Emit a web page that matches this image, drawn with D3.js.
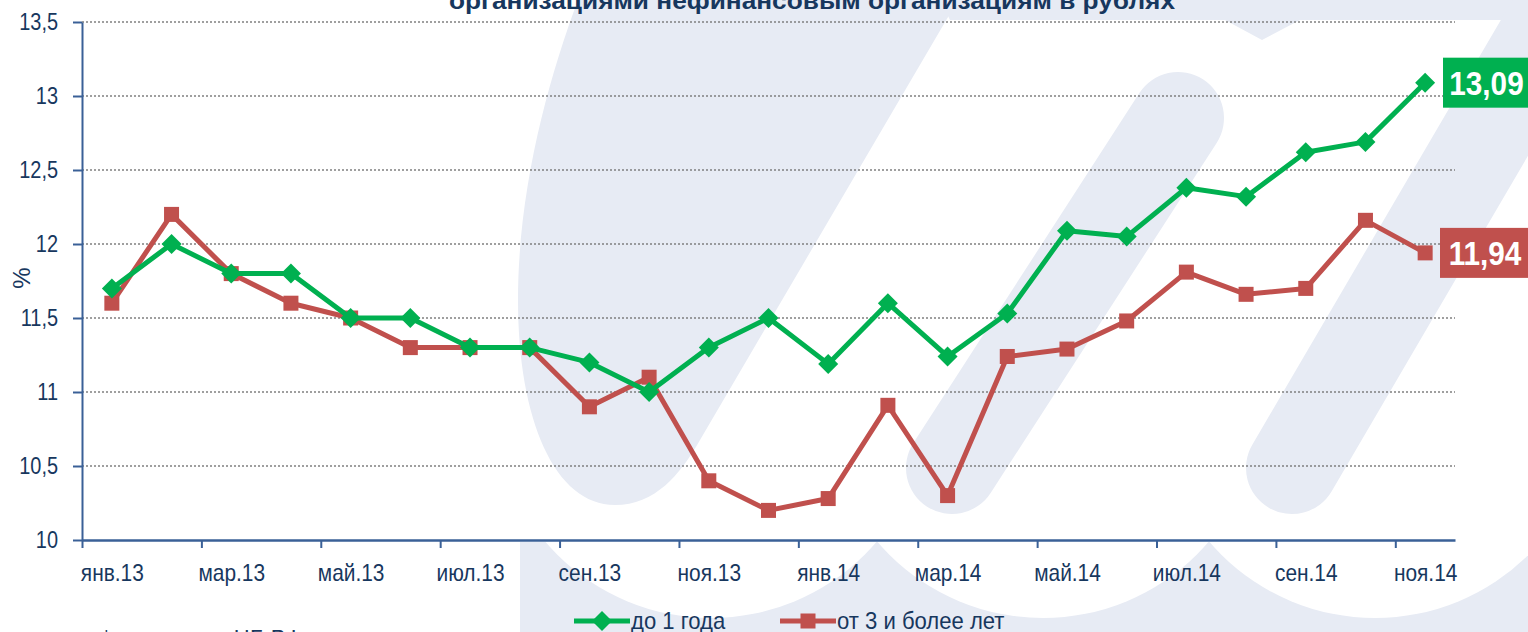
<!DOCTYPE html>
<html>
<head>
<meta charset="utf-8">
<script src="https://cdn.jsdelivr.net/npm/d3@7"></script>
<style>
  html, body { margin: 0; padding: 0; background: #ffffff; }
  svg { display: block; }
</style>
</head>
<body>
<svg id="chart" width="1528" height="632"></svg>
<script>
// ---- Data ----
const months = ["янв.13","фев.13","мар.13","апр.13","май.13","июн.13","июл.13","авг.13","сен.13","окт.13","ноя.13","дек.13",
                "янв.14","фев.14","мар.14","апр.14","май.14","июн.14","июл.14","авг.14","сен.14","окт.14","ноя.14"];
const shortTerm = [11.70,12.00,11.80,11.80,11.50,11.50,11.30,11.30,11.20,11.00,11.30,11.50,
                   11.19,11.60,11.24,11.53,12.09,12.05,12.38,12.32,12.62,12.69,13.09];
const longTerm  = [11.60,12.20,11.80,11.60,11.50,11.30,11.30,11.30,10.90,11.10,10.40,10.20,
                   10.28,10.91,10.30,11.24,11.29,11.48,11.81,11.66,11.70,12.16,11.94];
const yTicks = [10, 10.5, 11, 11.5, 12, 12.5, 13, 13.5];
const seriesNames = ["до 1 года", "от 3 и более лет"];
const titleText = "организациями нефинансовым организациям в рублях";
const yAxisLabel = "%";
const footnote = "* по данным ЦБ РФ";

// ---- Styles ----
const GREEN = "#00b050", RED = "#c0504d", NAVY = "#17375e", AXIS = "#3a6097", WM = "#e7ebf4";
const FONT = "'Liberation Sans',Arial,sans-serif";

// condense text horizontally (Arial Narrow look)
function narrow(sel, f) {
  sel.each(function () {
    const w = this.getComputedTextLength();
    d3.select(this).attr("textLength", w * f).attr("lengthAdjust", "spacingAndGlyphs");
  });
}

const svg = d3.select("#chart");

// ---- Watermark (background logo) ----
const wm = svg.append("g");
wm.append("path").attr("fill", WM)
  .attr("d", "M578,0 C548,80 518,190 518,300 C518,420 555,505 615,505 C655,505 680,475 700,440 L958,0 Z");
wm.append("path").attr("fill", WM)
  .attr("d", "M940,0 L1528,0 L1528,20 L1300,20 L1262,40 L1225,20 L950,20 Z");
wm.append("line").attr("x1",1178).attr("y1",118).attr("x2",952).attr("y2",468)
  .attr("stroke", WM).attr("stroke-width", 92).attr("stroke-linecap","round");
wm.append("line").attr("x1",1560).attr("y1",10).attr("x2",1292).attr("y2",468)
  .attr("stroke", WM).attr("stroke-width", 92).attr("stroke-linecap","round");
const defs = svg.append("defs");
defs.append("clipPath").attr("id","bottomClip").append("rect")
  .attr("x",0).attr("y",542).attr("width",1528).attr("height",100);
const wmb = wm.append("g").attr("clip-path","url(#bottomClip)");
wmb.append("rect").attr("x",520).attr("y",540).attr("width",1008).attr("height",100).attr("fill",WM);
[711,1043,1375].forEach(cx => wmb.append("circle").attr("cx",cx).attr("cy",400).attr("r",218).attr("fill","#ffffff"));

// ---- Scales ----
const x0 = 82, x1 = 1455, yTop = 22, yBot = 540;
const xIdx = d3.scaleLinear().domain([0, months.length]).range([x0, x1]);
const step = (x1 - x0) / months.length;
const xc = i => xIdx(i + 0.5);
const y = d3.scaleLinear().domain([10, 13.5]).range([yBot, yTop]);
const fmt = v => d3.format(".1f")(v).replace(".", ",").replace(/,0$/, "");

// ---- Gridlines ----
svg.append("g").selectAll("line").data(yTicks.filter(t => t > 10)).join("line")
  .attr("x1", x0).attr("x2", x1).attr("y1", d => y(d)).attr("y2", d => y(d))
  .attr("stroke", "#808080").attr("stroke-width", 1.3).attr("stroke-dasharray", "2,2");

// ---- Title (partly cut off at top) ----
svg.append("text").attr("x", 812).attr("y", 9)
  .attr("text-anchor", "middle").attr("font-family", FONT)
  .attr("font-weight", "bold").attr("font-size", 24).attr("fill", NAVY)
  .attr("textLength", 726).attr("lengthAdjust", "spacingAndGlyphs")
  .text(titleText);

// ---- Y axis ----
const yAxis = svg.append("g").attr("transform", `translate(${x0},0)`)
  .call(d3.axisLeft(y).tickValues(yTicks).tickSize(9).tickSizeOuter(0)
        .tickPadding(15).tickFormat(d => fmt(d)));
yAxis.select(".domain").attr("stroke", AXIS).attr("stroke-width", 2);
yAxis.selectAll(".tick line").attr("stroke", AXIS).attr("stroke-width", 2);
yAxis.selectAll(".tick text").attr("font-family", FONT).attr("font-size", 24).attr("fill", NAVY).call(narrow, 0.83);

svg.append("text").attr("transform", "translate(30,278) rotate(-90)")
  .attr("text-anchor", "middle").attr("font-family", FONT).attr("font-size", 24).attr("fill", NAVY)
  .text(yAxisLabel);

// ---- X axis ----
const tickIdx = d3.range(0, months.length, 2);
const xAxis = svg.append("g").attr("transform", `translate(0,${yBot})`)
  .call(d3.axisBottom(xIdx).tickValues(tickIdx).tickSize(8).tickSizeOuter(0)
        .tickPadding(16).tickFormat(i => months[i]));
xAxis.select(".domain").attr("stroke", AXIS).attr("stroke-width", 2.5);
xAxis.selectAll(".tick line").attr("stroke", AXIS).attr("stroke-width", 2);
xAxis.selectAll(".tick text").attr("x", step / 2)
  .attr("font-family", FONT).attr("font-size", 24).attr("fill", NAVY).call(narrow, 0.87);

// ---- Series ----
const line = d3.line().x((d, i) => xc(i)).y(d => y(d));
function drawSeries(values, color, marker) {
  svg.append("path").datum(values).attr("d", line)
    .attr("fill", "none").attr("stroke", color).attr("stroke-width", 5).attr("stroke-linejoin", "round");
  const g = svg.append("g");
  if (marker === "diamond") {
    g.selectAll("path").data(values).join("path")
      .attr("d", d3.symbol().type(d3.symbolSquare).size(200))
      .attr("transform", (d, i) => `translate(${xc(i)},${y(d)}) rotate(45)`)
      .attr("fill", color);
  } else {
    g.selectAll("rect").data(values).join("rect")
      .attr("x", (d, i) => xc(i) - 7.5).attr("y", d => y(d) - 7.5)
      .attr("width", 15).attr("height", 15).attr("fill", color);
  }
}
drawSeries(longTerm, RED, "square");
drawSeries(shortTerm, GREEN, "diamond");

// ---- End value boxes ----
function endBox(values, color, boxX, boxW) {
  const last = values[values.length - 1];
  const cy = y(last);
  svg.append("rect").attr("x", boxX).attr("y", cy - 25).attr("width", boxW).attr("height", 50).attr("fill", color);
  const t = svg.append("text").attr("x", boxX).attr("y", cy + 12)
    .attr("font-family", FONT).attr("font-weight", "bold")
    .attr("font-size", 33).attr("fill", "#ffffff")
    .text(d3.format(".2f")(last).replace(".", ","));
  const w = t.node().getComputedTextLength() * 0.9;
  t.attr("x", boxX + (boxW - w) / 2 + 1).attr("textLength", w).attr("lengthAdjust", "spacingAndGlyphs");
}
endBox(shortTerm, GREEN, 1443, 85);
endBox(longTerm, RED, 1440, 88);

// ---- Legend ----
const legend = [
  { name: seriesNames[0], color: GREEN, marker: "diamond", x: 574 },
  { name: seriesNames[1], color: RED, marker: "square", x: 780 }
];
legend.forEach(l => {
  const ly = 621;
  svg.append("line").attr("x1", l.x).attr("x2", l.x + 56).attr("y1", ly).attr("y2", ly)
    .attr("stroke", l.color).attr("stroke-width", 5);
  if (l.marker === "diamond") {
    svg.append("path").attr("d", d3.symbol().type(d3.symbolSquare).size(200))
      .attr("transform", `translate(${l.x + 28},${ly}) rotate(45)`).attr("fill", l.color);
  } else {
    svg.append("rect").attr("x", l.x + 28 - 7.5).attr("y", ly - 7.5).attr("width", 15).attr("height", 15).attr("fill", l.color);
  }
  svg.append("text").attr("x", l.x + 57).attr("y", 629)
    .attr("font-family", FONT).attr("font-size", 24).attr("fill", NAVY).text(l.name)
    .call(narrow, 0.92);
});

// ---- Footnote (cut off at bottom) ----
svg.append("text").attr("x", 102).attr("y", 647)
  .attr("font-family", FONT).attr("font-size", 24).attr("fill", NAVY)
  .attr("textLength", 200).attr("lengthAdjust", "spacingAndGlyphs")
  .text(footnote);
</script>
</body>
</html>
